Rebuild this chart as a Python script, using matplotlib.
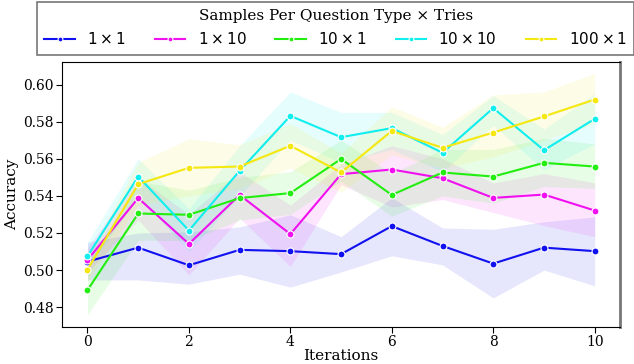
import numpy as np
import matplotlib
matplotlib.use("Agg")
import matplotlib.pyplot as plt

plt.rcParams['font.family'] = 'DejaVu Serif'
plt.rcParams['mathtext.fontset'] = 'dejavusans'

iterations = list(range(11))
labels = [r"$1\times1$", r"$1\times10$", r"$10\times1$", r"$10\times10$", r"$100\times1$"]
colors = ['#1010f0', '#f010f0', '#22ee10', '#10eeee', '#f5e810']

acc_1x1 = [0.5046, 0.5121, 0.5026, 0.5109, 0.5102, 0.5086, 0.5237, 0.5130, 0.5035, 0.5121, 0.5102]
acc_1x10 = [0.5055, 0.5388, 0.5141, 0.5405, 0.5194, 0.5517, 0.5542, 0.5495, 0.5389, 0.5407, 0.5321]
acc_10x1 = [0.4892, 0.5305, 0.5298, 0.5388, 0.5415, 0.5599, 0.5405, 0.5526, 0.5504, 0.5578, 0.5558]
acc_10x10 = [0.5075, 0.5504, 0.5213, 0.5535, 0.5831, 0.5716, 0.5765, 0.5632, 0.5873, 0.5646, 0.5815]
acc_100x1 = [0.5003, 0.5463, 0.5551, 0.5558, 0.5670, 0.5526, 0.5750, 0.5659, 0.5741, 0.5828, 0.5919]

lo_1x1 = [0.4947, 0.4947, 0.4924, 0.4978, 0.4908, 0.4990, 0.5077, 0.5028, 0.4850, 0.5000, 0.4915]
hi_1x1 = [0.5150, 0.5200, 0.5206, 0.5233, 0.5298, 0.5180, 0.5390, 0.5227, 0.5220, 0.5260, 0.5287]
lo_1x10 = [0.4990, 0.5270, 0.4975, 0.5280, 0.5020, 0.5460, 0.5340, 0.5380, 0.5310, 0.5240, 0.5180]
hi_1x10 = [0.5120, 0.5500, 0.5300, 0.5530, 0.5350, 0.5570, 0.5670, 0.5600, 0.5470, 0.5520, 0.5470]
lo_10x1 = [0.4760, 0.5160, 0.5160, 0.5270, 0.5300, 0.5480, 0.5290, 0.5400, 0.5360, 0.5450, 0.5440]
hi_10x1 = [0.5030, 0.5480, 0.5430, 0.5500, 0.5530, 0.5700, 0.5520, 0.5650, 0.5650, 0.5710, 0.5680]
lo_10x10 = [0.5000, 0.5400, 0.5100, 0.5400, 0.5700, 0.5580, 0.5650, 0.5530, 0.5780, 0.5540, 0.5680]
hi_10x10 = [0.5150, 0.5600, 0.5330, 0.5670, 0.5960, 0.5850, 0.5850, 0.5730, 0.5940, 0.5760, 0.5950]
lo_100x1 = [0.4940, 0.5350, 0.5400, 0.5440, 0.5550, 0.5420, 0.5620, 0.5550, 0.5610, 0.5700, 0.5790]
hi_100x1 = [0.5070, 0.5580, 0.5707, 0.5675, 0.5790, 0.5630, 0.5880, 0.5770, 0.5944, 0.5960, 0.6060]

series = [
    (acc_1x1, lo_1x1, hi_1x1),
    (acc_1x10, lo_1x10, hi_1x10),
    (acc_10x1, lo_10x1, hi_10x1),
    (acc_10x10, lo_10x10, hi_10x10),
    (acc_100x1, lo_100x1, hi_100x1),
]

fig = plt.figure(figsize=(6.34, 3.64), dpi=100)
ax = fig.add_axes([0.098, 0.102, 0.88, 0.728])

for (acc, lo, hi), lab, c in zip(series, labels, colors):
    ax.fill_between(iterations, lo, hi, color=c, alpha=0.1, linewidth=0)
    ax.plot(iterations, acc, color=c, lw=1.5, marker='o', ms=5,
            markeredgecolor='white', markeredgewidth=0.8, label=lab)

ax.set_xlim(-0.5, 10.5)
ax.set_ylim(0.4694, 0.6122)
ax.set_xticks([0, 2, 4, 6, 8, 10])
ax.set_yticks([0.48, 0.50, 0.52, 0.54, 0.56, 0.58, 0.60])
ax.set_xlabel("Iterations", fontsize=11, labelpad=0)
ax.set_ylabel("Accuracy", fontsize=11, labelpad=3)
ax.tick_params(labelsize=10, length=4, pad=2)
ax.spines['right'].set_color('#777777')
ax.spines['right'].set_linewidth(2)

handles, _ = ax.get_legend_handles_labels()
leg = fig.legend(handles, labels, loc='upper left', bbox_to_anchor=(0.058, 0.995),
                 ncol=5, title="Samples Per Question Type \u00d7 Tries",
                 fontsize=11, title_fontsize=11, fancybox=False, edgecolor='#555555',
                 markerscale=0.7, handlelength=2.0, columnspacing=1.9, borderaxespad=0,
                 borderpad=0.5)
leg.get_frame().set_linewidth(1.2)

fig.savefig("out.png", dpi=100)
